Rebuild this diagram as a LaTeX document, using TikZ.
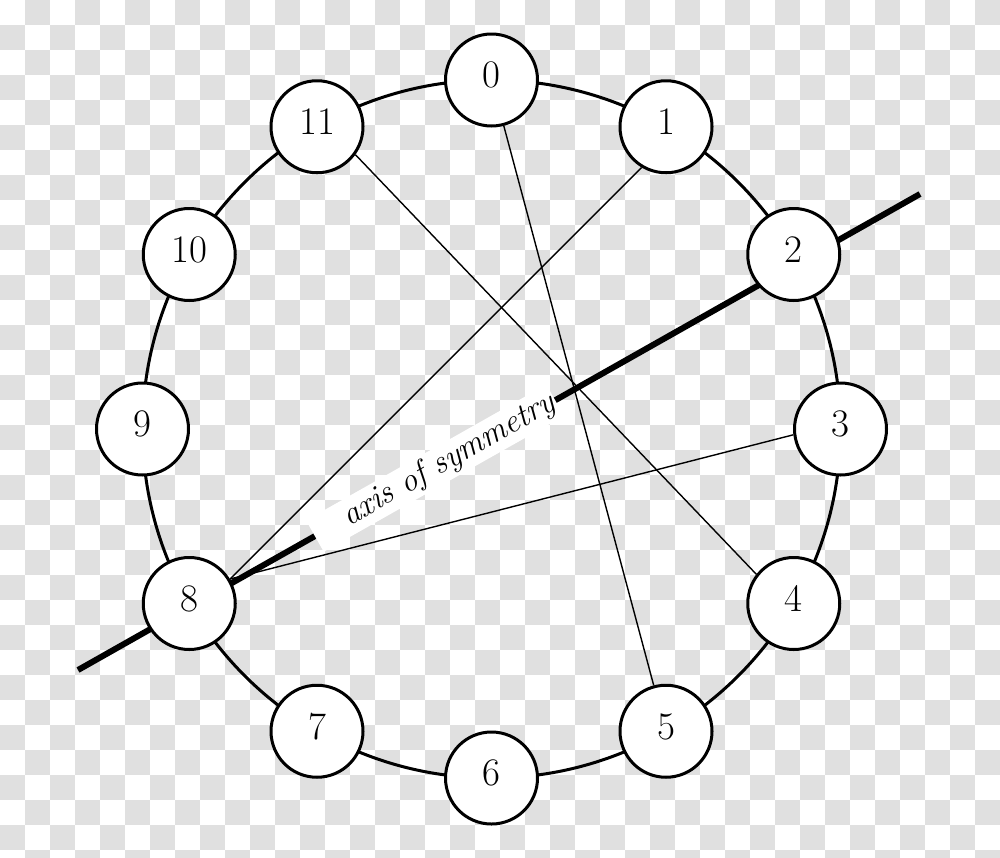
\documentclass[tikz,border=0pt]{standalone}
\usepackage{tikz}
\pgfdeclarelayer{checks}
\pgfdeclarelayer{lines}
\pgfsetlayers{checks,lines,main}
\definecolor{checkgray}{RGB}{224,224,224}
\tikzset{
  pc/.style={circle, draw=black, line width=3pt, fill=white, minimum size=92pt,
    inner sep=0pt, text depth=10pt, font=\fontsize{39}{39}\selectfont},
  ring/.style={line width=3pt},
  chord/.style={line width=1.4pt},
  axisline/.style={line width=6pt},
  axislabel/.style={fill=white, sloped, font=\fontsize{33}{33}\selectfont\itshape,
    inner xsep=2pt, inner ysep=3pt, text width=272pt, align=right, line width=0pt}
}
\begin{document}
\begin{tikzpicture}[x=1pt,y=-1pt]
\useasboundingbox (0,0) rectangle (1000,857);
\begin{pgfonlayer}{checks}
  \fill[white] (0,0) rectangle (1000,857);
  \begin{scope}
    \clip (0,0) rectangle (1000,857);
    \foreach \j in {0,...,34}{
      \foreach \i in {0,...,19}{
        \fill[checkgray] ({50*\i+25*(1-mod(\j,2))},{25*\j}) rectangle ++(25,25);
      }
    }
  \end{scope}
\end{pgfonlayer}

\foreach \k in {0,...,11}
  \node[pc] (n\k) at ({491.5+349*sin(30*\k)},{429-349*cos(30*\k)}) {\k};

\coordinate (a1) at (78,670);
\coordinate (a2) at (920,194);

\begin{pgfonlayer}{lines}
  \draw[ring] (491.5,429) circle (349);
  \draw[chord] (n8.31) -- (n1.239);
  \draw[chord] (n8.31) -- (n3.187);
  \draw[chord] (n11.324) -- (n4.142);
  \draw[chord] (n0) -- (n5);
  \draw[axisline] (a1) -- node[axislabel, pos=0.424] (lab) {axis of symmetry} (a2);
\end{pgfonlayer}
\end{tikzpicture}
\end{document}
